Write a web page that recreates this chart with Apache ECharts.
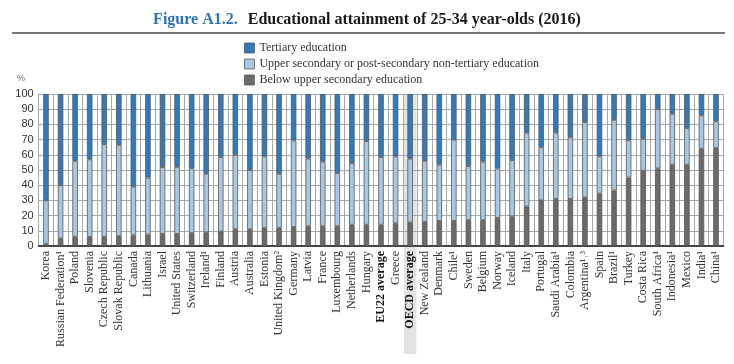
<!DOCTYPE html>
<html>
<head>
<meta charset="utf-8">
<script src="https://cdn.jsdelivr.net/npm/echarts@6/dist/echarts.min.js"></script>
<style>html,body{margin:0;padding:0;background:#fff}#c{width:734px;height:364px}</style>
</head>
<body>
<div id="c"></div>
<script>
var categories = ["Korea","Russian Federation¹","Poland","Slovenia","Czech Republic","Slovak Republic","Canada","Lithuania","Israel","United States","Switzerland","Ireland¹","Finland","Austria","Australia","Estonia","United Kingdom²","Germany","Latvia","France","Luxembourg","Netherlands","Hungary","EU22 average","Greece","OECD average","New Zealand","Denmark","Chile¹","Sweden","Belgium","Norway","Iceland","Italy","Portugal","Saudi Arabia¹","Colombia","Argentina¹˒³","Spain","Brazil¹","Turkey","Costa Rica","South Africa¹","Indonesia¹","Mexico","India¹","China¹"];
var belowUpperSecondary = [1.5,5,6,6,6,6.5,7,7.5,8,8,8.5,9,9.5,11,11,12,12,12.5,13,13,13,14,14,14,15,15.5,16,16.5,16.5,17,17,18.5,19.5,26,30,31,31,32,34.5,36.5,45,49.5,51,53.5,53.5,64,64.5];
var upperSecondary = [28.5,35,50,51,61,60,32,37.5,44,44,42.5,38.5,49,49,39,47,35.5,57,44.5,42.5,35,40.5,55,44.5,44,42,40,37,53.5,35.5,38.5,32.5,37,48.5,35,43.5,40.5,49.5,24.5,46.5,24.5,21,39,33.5,24,22,17.5];
var tertiary = [70,60,44,43,33,33.5,61,55,48,48,49,52.5,41.5,40,50,41,52.5,30.5,42.5,44.5,52,45.5,31,41.5,41,42.5,44,46.5,30,47.5,44.5,49,43.5,25.5,35,25.5,28.5,18.5,41,17,30.5,29.5,10,13,22.5,14,18];
var yTicks = [0,10,20,30,40,50,60,70,80,90,100];
var boldCats = ["EU22 average","OECD average"];
var highlightCat = "OECD average";

var serif = "'Liberation Serif', 'DejaVu Serif', serif";
var sans = "'Liberation Sans', Arial, sans-serif";
var border = '#555';
function mk(name, data, color) {
  return {
    name: name, type: 'bar', stack: 'total', data: data, barWidth: 5.5,
    itemStyle: { color: color, borderColor: border, borderWidth: 0.8 },
    emphasis: { disabled: true }
  };
}
var chart = echarts.init(document.getElementById('c'));
var option = {
  animation: false,
  backgroundColor: '#fff',
  title: {
    left: 'center', top: 6,
    text: '{a|Figure A1.2.}  {b|Educational attainment of 25-34 year-olds (2016)}',
    textStyle: {
      rich: {
        a: { fontFamily: serif, fontSize: 16, fontWeight: 'bold', color: '#2e74b5' },
        b: { fontFamily: serif, fontSize: 16, fontWeight: 'bold', color: '#1a1a1a' }
      }
    }
  },
  legend: {
    orient: 'vertical', left: 239, top: 37, itemWidth: 10, itemHeight: 10, itemGap: 4,
    icon: 'rect',
    data: ['Tertiary education', 'Upper secondary or post-secondary non-tertiary education', 'Below upper secondary education'],
    textStyle: { fontFamily: serif, fontSize: 12, color: '#333' },
    itemStyle: { borderColor: border, borderWidth: 0.8 }
  },
  grid: { left: 38.7, right: 10.7, top: 94, bottom: 118, containLabel: false },
  xAxis: {
    type: 'category', data: categories,
    axisLine: { show: true, lineStyle: { color: '#444', width: 2 } },
    axisTick: { show: false },
    splitLine: { show: true, interval: 0, lineStyle: { color: '#a8a8a8', width: 1 } },
    axisLabel: {
      interval: 0, rotate: 90, margin: 5, fontFamily: serif, fontSize: 12, color: '#333',
      formatter: function (v) { return boldCats.indexOf(v) >= 0 ? '{b|' + v + '}' : v; },
      rich: { b: { fontFamily: serif, fontSize: 12, fontWeight: 'bold', color: '#111' } }
    }
  },
  yAxis: {
    type: 'value', min: yTicks[0], max: yTicks[yTicks.length - 1], interval: 10,
    axisLine: { show: true, lineStyle: { color: '#a8a8a8' } },
    axisTick: { show: false },
    splitLine: { show: true, lineStyle: { color: '#a8a8a8', width: 1 } },
    axisLabel: { fontFamily: sans, fontSize: 11, color: '#333', margin: 5 }
  },
  series: [
    mk('Below upper secondary education', belowUpperSecondary, '#6b6b6b'),
    mk('Upper secondary or post-secondary non-tertiary education', upperSecondary, '#a6c8e5'),
    mk('Tertiary education', tertiary, '#2f7bbf')
  ]
};
chart.setOption(option);

var idx = categories.indexOf(highlightCat);
var cx = chart.convertToPixel({ xAxisIndex: 0 }, idx);
var band = chart.convertToPixel({ xAxisIndex: 0 }, 1) - chart.convertToPixel({ xAxisIndex: 0 }, 0);
var yTop = chart.convertToPixel({ yAxisIndex: 0 }, 100);
chart.setOption({
  graphic: [
    { type: 'rect', z: -100, silent: true, shape: { x: cx - band / 2 + 1, y: yTop, width: band - 2, height: 354 - yTop }, style: { fill: '#e3e3e3' } },
    { type: 'line', silent: true, shape: { x1: 12, y1: 33, x2: 725, y2: 33 }, style: { stroke: '#777', lineWidth: 2 } },
    { type: 'text', silent: true, left: 17, top: 74, style: { text: '%', fontFamily: sans, fontSize: 9, fill: '#666' } }
  ]
});
</script>
</body>
</html>
